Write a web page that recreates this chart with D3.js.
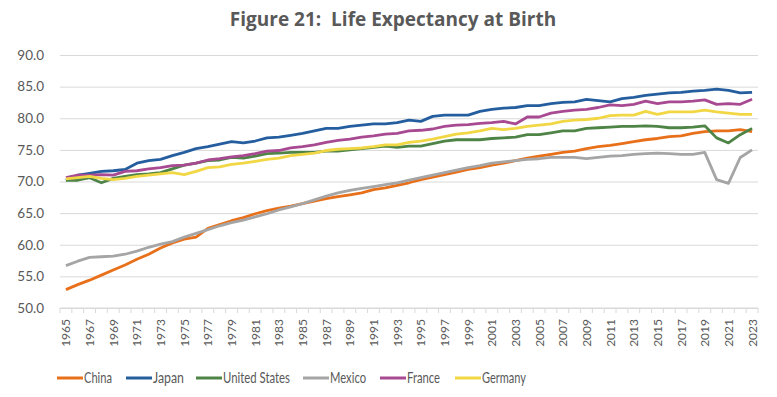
<!DOCTYPE html>
<html>
<head>
<meta charset="utf-8">
<script src="https://cdn.jsdelivr.net/npm/d3@7"></script>
<style>
  body { margin: 0; background: #fff; }
  svg text { font-family: Lato, "Open Sans", sans-serif; fill: #595959; }
  svg text.title { font-family: "Open Sans", sans-serif; white-space: pre; }
</style>
</head>
<body>
<svg width="777" height="397"></svg>
<script>
// years 1965..2023
let years = d3.range(1965, 2024);
let yTicks = [50, 55, 60, 65, 70, 75, 80, 85, 90];

let china = [52.9,53.7,54.4,55.2,56.0,56.8,57.7,58.5,59.5,60.3,60.9,61.2,62.6,63.2,63.8,64.3,64.9,65.4,65.8,66.1,
  66.5,66.9,67.3,67.6,67.9,68.2,68.7,69.0,69.4,69.8,70.3,70.7,71.1,71.5,71.9,72.2,72.6,72.9,73.3,73.7,
  74.0,74.3,74.6,74.8,75.2,75.5,75.7,76.0,76.3,76.6,76.8,77.1,77.2,77.6,77.9,78.0,78.0,78.2,77.9];
let japan = [70.2,71.0,71.3,71.6,71.7,71.9,72.9,73.3,73.5,74.1,74.6,75.2,75.5,75.9,76.3,76.1,76.4,76.9,77.0,77.3,
  77.6,78.0,78.4,78.4,78.7,78.9,79.1,79.1,79.3,79.7,79.5,80.3,80.5,80.5,80.5,81.1,81.4,81.6,81.7,82.0,
  82.0,82.3,82.5,82.6,83.0,82.8,82.6,83.1,83.3,83.6,83.8,84.0,84.1,84.3,84.4,84.6,84.4,84.0,84.1];
let us = [70.2,70.2,70.6,69.8,70.5,70.8,71.1,71.2,71.4,72.0,72.6,72.9,73.3,73.4,73.8,73.7,74.0,74.4,74.5,74.6,
  74.6,74.6,74.8,74.8,75.0,75.2,75.4,75.6,75.4,75.6,75.6,76.0,76.4,76.6,76.6,76.6,76.8,76.9,77.0,77.4,
  77.4,77.7,78.0,78.0,78.4,78.5,78.6,78.7,78.7,78.8,78.7,78.5,78.5,78.6,78.8,76.9,76.1,77.4,78.4];
let mexico = [56.7,57.4,58.0,58.1,58.2,58.5,59.0,59.6,60.1,60.5,61.2,61.8,62.4,63.0,63.5,63.9,64.4,64.9,65.5,66.0,
  66.5,67.1,67.7,68.2,68.6,68.9,69.2,69.5,69.8,70.2,70.6,71.0,71.4,71.8,72.2,72.5,72.9,73.1,73.3,73.5,
  73.6,73.8,73.8,73.8,73.6,73.8,74.0,74.1,74.3,74.4,74.5,74.4,74.3,74.3,74.6,70.3,69.7,73.8,75.0];
let france = [70.6,71.0,71.0,71.1,71.0,71.6,71.7,72.0,72.2,72.5,72.6,72.9,73.4,73.6,73.9,74.1,74.4,74.8,74.9,75.3,
  75.5,75.8,76.2,76.5,76.7,77.0,77.2,77.5,77.6,78.0,78.1,78.3,78.7,78.9,79.0,79.2,79.3,79.5,79.1,80.2,
  80.2,80.8,81.1,81.3,81.4,81.7,82.1,82.0,82.2,82.7,82.3,82.6,82.6,82.7,82.9,82.2,82.3,82.2,83.0];
let germany = [70.4,70.6,70.8,70.5,70.3,70.5,70.8,71.0,71.2,71.4,71.1,71.6,72.2,72.3,72.7,72.9,73.2,73.5,73.7,74.1,
  74.3,74.5,74.9,75.1,75.2,75.3,75.5,75.8,75.8,76.2,76.4,76.7,77.1,77.5,77.7,78.0,78.4,78.2,78.4,78.7,
  78.9,79.1,79.5,79.7,79.8,80.0,80.4,80.5,80.5,81.1,80.6,81.0,81.0,81.0,81.3,81.0,80.8,80.6,80.6];

let seriesNames = ["China", "Japan", "United States", "Mexico", "France", "Germany"];
let seriesValues = [china, japan, us, mexico, france, germany];
let seriesColors = ["#E8701A", "#255E9F", "#4E8446", "#A5A5A5", "#A84A92", "#F2D745"];

let svg = d3.select("svg");
let margin = {top: 55, right: 19, bottom: 89, left: 60};
let width = +svg.attr("width");
let height = +svg.attr("height");

let x = d3.scaleBand()
  .domain(years)
  .range([margin.left, width - margin.right]);
let y = d3.scaleLinear()
  .domain([50, 90])
  .range([height - margin.bottom, margin.top]);

// title
svg.append("text")
  .attr("class", "title")
  .attr("x", 393)
  .attr("y", 26)
  .attr("text-anchor", "middle")
  .attr("font-size", 19)
  .attr("font-weight", "bold")
  .text("Figure 21:  Life Expectancy at Birth");

// gridlines + y labels
let yAxis = svg.append("g")
  .attr("transform", `translate(${margin.left},0)`)
  .call(d3.axisLeft(y)
    .tickValues(yTicks)
    .tickSize(-(width - margin.left - margin.right))
    .tickFormat(d3.format(".1f")));
yAxis.select(".domain").remove();
yAxis.selectAll(".tick line").attr("stroke", "#d9d9d9");
yAxis.selectAll(".tick text")
  .attr("x", -16)
  .attr("font-size", 13.5);

// x axis: ticks between categories, labels every other year
let xg = svg.append("g")
  .attr("transform", `translate(0,${height - margin.bottom})`);
xg.append("line")
  .attr("x1", margin.left).attr("x2", width - margin.right)
  .attr("stroke", "#d9d9d9");
xg.selectAll("line.tk")
  .data(years.concat([2024]))
  .enter().append("line")
    .attr("class", "tk")
    .attr("x1", d => d < 2024 ? x(d) : x.range()[1])
    .attr("x2", d => d < 2024 ? x(d) : x.range()[1])
    .attr("y1", 0).attr("y2", 5)
    .attr("stroke", "#d9d9d9");
xg.selectAll("text")
  .data(years.filter(d => (d - 1965) % 2 === 0))
  .enter().append("text")
    .attr("transform", d => `translate(${x(d) + x.bandwidth() / 2 + 4.5},11) rotate(-90)`)
    .attr("text-anchor", "end")
    .attr("font-size", 12)
    .text(d => d);

// lines
let line = d3.line()
  .x((d, i) => x(years[i]) + x.bandwidth() / 2)
  .y(d => y(d));

svg.append("g")
  .selectAll("path")
  .data(seriesValues)
  .enter().append("path")
    .attr("fill", "none")
    .attr("stroke", (d, i) => seriesColors[i])
    .attr("stroke-width", 2.8)
    .attr("stroke-linejoin", "round")
    .attr("d", line);

// legend (condensed text to mimic the narrow original font)
let legendX = [57, 126, 196, 303, 380, 455];
let legendW = [28, 31, 67, 36, 33, 44];
let lg = svg.append("g").attr("transform", "translate(0,378)");
seriesNames.forEach((name, i) => {
  lg.append("line")
    .attr("x1", legendX[i]).attr("x2", legendX[i] + 26)
    .attr("stroke", seriesColors[i])
    .attr("stroke-width", 3);
  lg.append("text")
    .attr("x", legendX[i] + 27)
    .attr("y", 5)
    .attr("font-size", 15)
    .attr("textLength", legendW[i])
    .attr("lengthAdjust", "spacingAndGlyphs")
    .text(name);
});
</script>
</body>
</html>
